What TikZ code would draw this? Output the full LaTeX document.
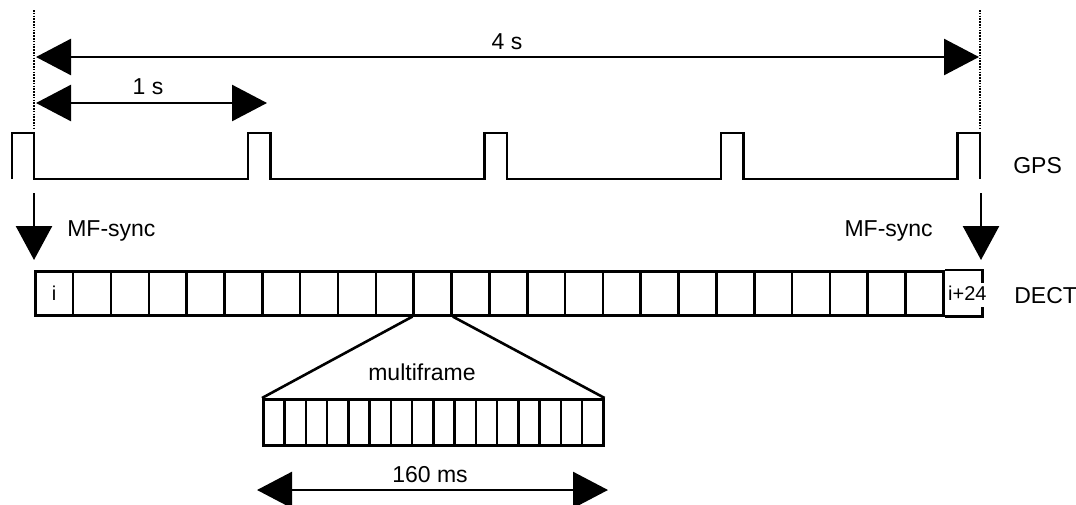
\documentclass[tikz,border=0pt]{standalone}
\usepackage{fontspec}
\setmainfont{Liberation Sans}
\usetikzlibrary{arrows.meta}

\begin{document}
\begin{tikzpicture}[x=0.5pt,y=-0.5pt,line width=1.3pt,
    span/.style={{Triangle[length=17.5pt,width=18pt]}-{Triangle[length=17.5pt,width=18pt]}},
    sync/.style={-{Triangle[length=17pt,width=18pt]}},
    guide/.style={line width=1.2pt,dash pattern=on 0.8pt off 0.6pt},
    lbl/.style={font=\fontsize{11.5}{13}\selectfont,inner sep=0pt},
    small/.style={font=\fontsize{10}{12}\selectfont,inner sep=0pt},
    slot/.style={draw,anchor=north west,inner sep=0pt,minimum width=18.92pt,minimum height=22pt},
    subslot/.style={draw,anchor=north west,inner sep=0pt,minimum width=10.625pt,minimum height=23pt}]
  \useasboundingbox (0,0) rectangle (1076,504);

  % time marks
  \coordinate (g0) at (34,10);
  \coordinate (g1) at (34,128);
  \coordinate (h0) at (980,10);
  \coordinate (h1) at (980,128);
  \draw[guide] (g0) -- (g1);
  \draw[guide] (h0) -- (h1);

  % 4 s and 1 s
  \coordinate (a4l) at (36,57);
  \coordinate (a4r) at (979,57);
  \coordinate (a1l) at (36,103);
  \coordinate (a1r) at (267,103);
  \draw[span] (a4l) -- (a4r);
  \draw[span] (a1l) -- (a1r);
  \node[lbl,anchor=base] at (507,49) {4 s};
  \node[lbl,anchor=base] at (148,94) {1 s};

  % GPS pulses
  \draw (12,179) foreach \k in {0,...,3} { |- ({34+236.5*\k},133) |- ({248+236.5*\k},179) }
    |- (980,133) -- (980,179);
  \node[lbl,anchor=base west] at (1012,173) {GPS};

  % MF-sync
  \coordinate (s0) at (34,193);
  \coordinate (s1) at (34,260);
  \coordinate (r0) at (981,193);
  \coordinate (r1) at (981,260);
  \draw[sync] (s0) -- (s1);
  \draw[sync] (r0) -- (r1);
  \node[lbl,anchor=base west] at (66,236) {MF-sync};
  \node[lbl,anchor=base east] at (934,236) {MF-sync};

  % DECT multiframes
  \foreach \k in {1,...,24}
    \node[slot] (d\k) at ({34+(\k-1)*37.84},270) {};
  \node[slot,draw=none] (d25) at (942.16,270) {};
  \draw (d24.north east) -- (d25.north east) -- ++(0,13);
  \draw (d24.south east) -- (d25.south east) -- ++(0,-10);
  \node[small] at (d1) {i};
  \node[small] at ([xshift=2.5pt]d25.center) {i+24};
  \node[lbl,anchor=base west] at (1013,303) {DECT};

  % one multiframe
  \foreach \k in {1,...,16}
    \node[subslot] (m\k) at ({262+(\k-1)*21.25},398) {};
  \draw (d11.south west) -- (m1.north west);
  \draw (d11.south east) -- (m16.north east);
  \node[lbl,anchor=base] at (422,380) {multiframe};

  % 160 ms
  \coordinate (b0) at (257,490);
  \coordinate (b1) at (608,490);
  \draw[span] (b0) -- (b1);
  \node[lbl,anchor=base] at (430,482) {160 ms};
\end{tikzpicture}
\end{document}
